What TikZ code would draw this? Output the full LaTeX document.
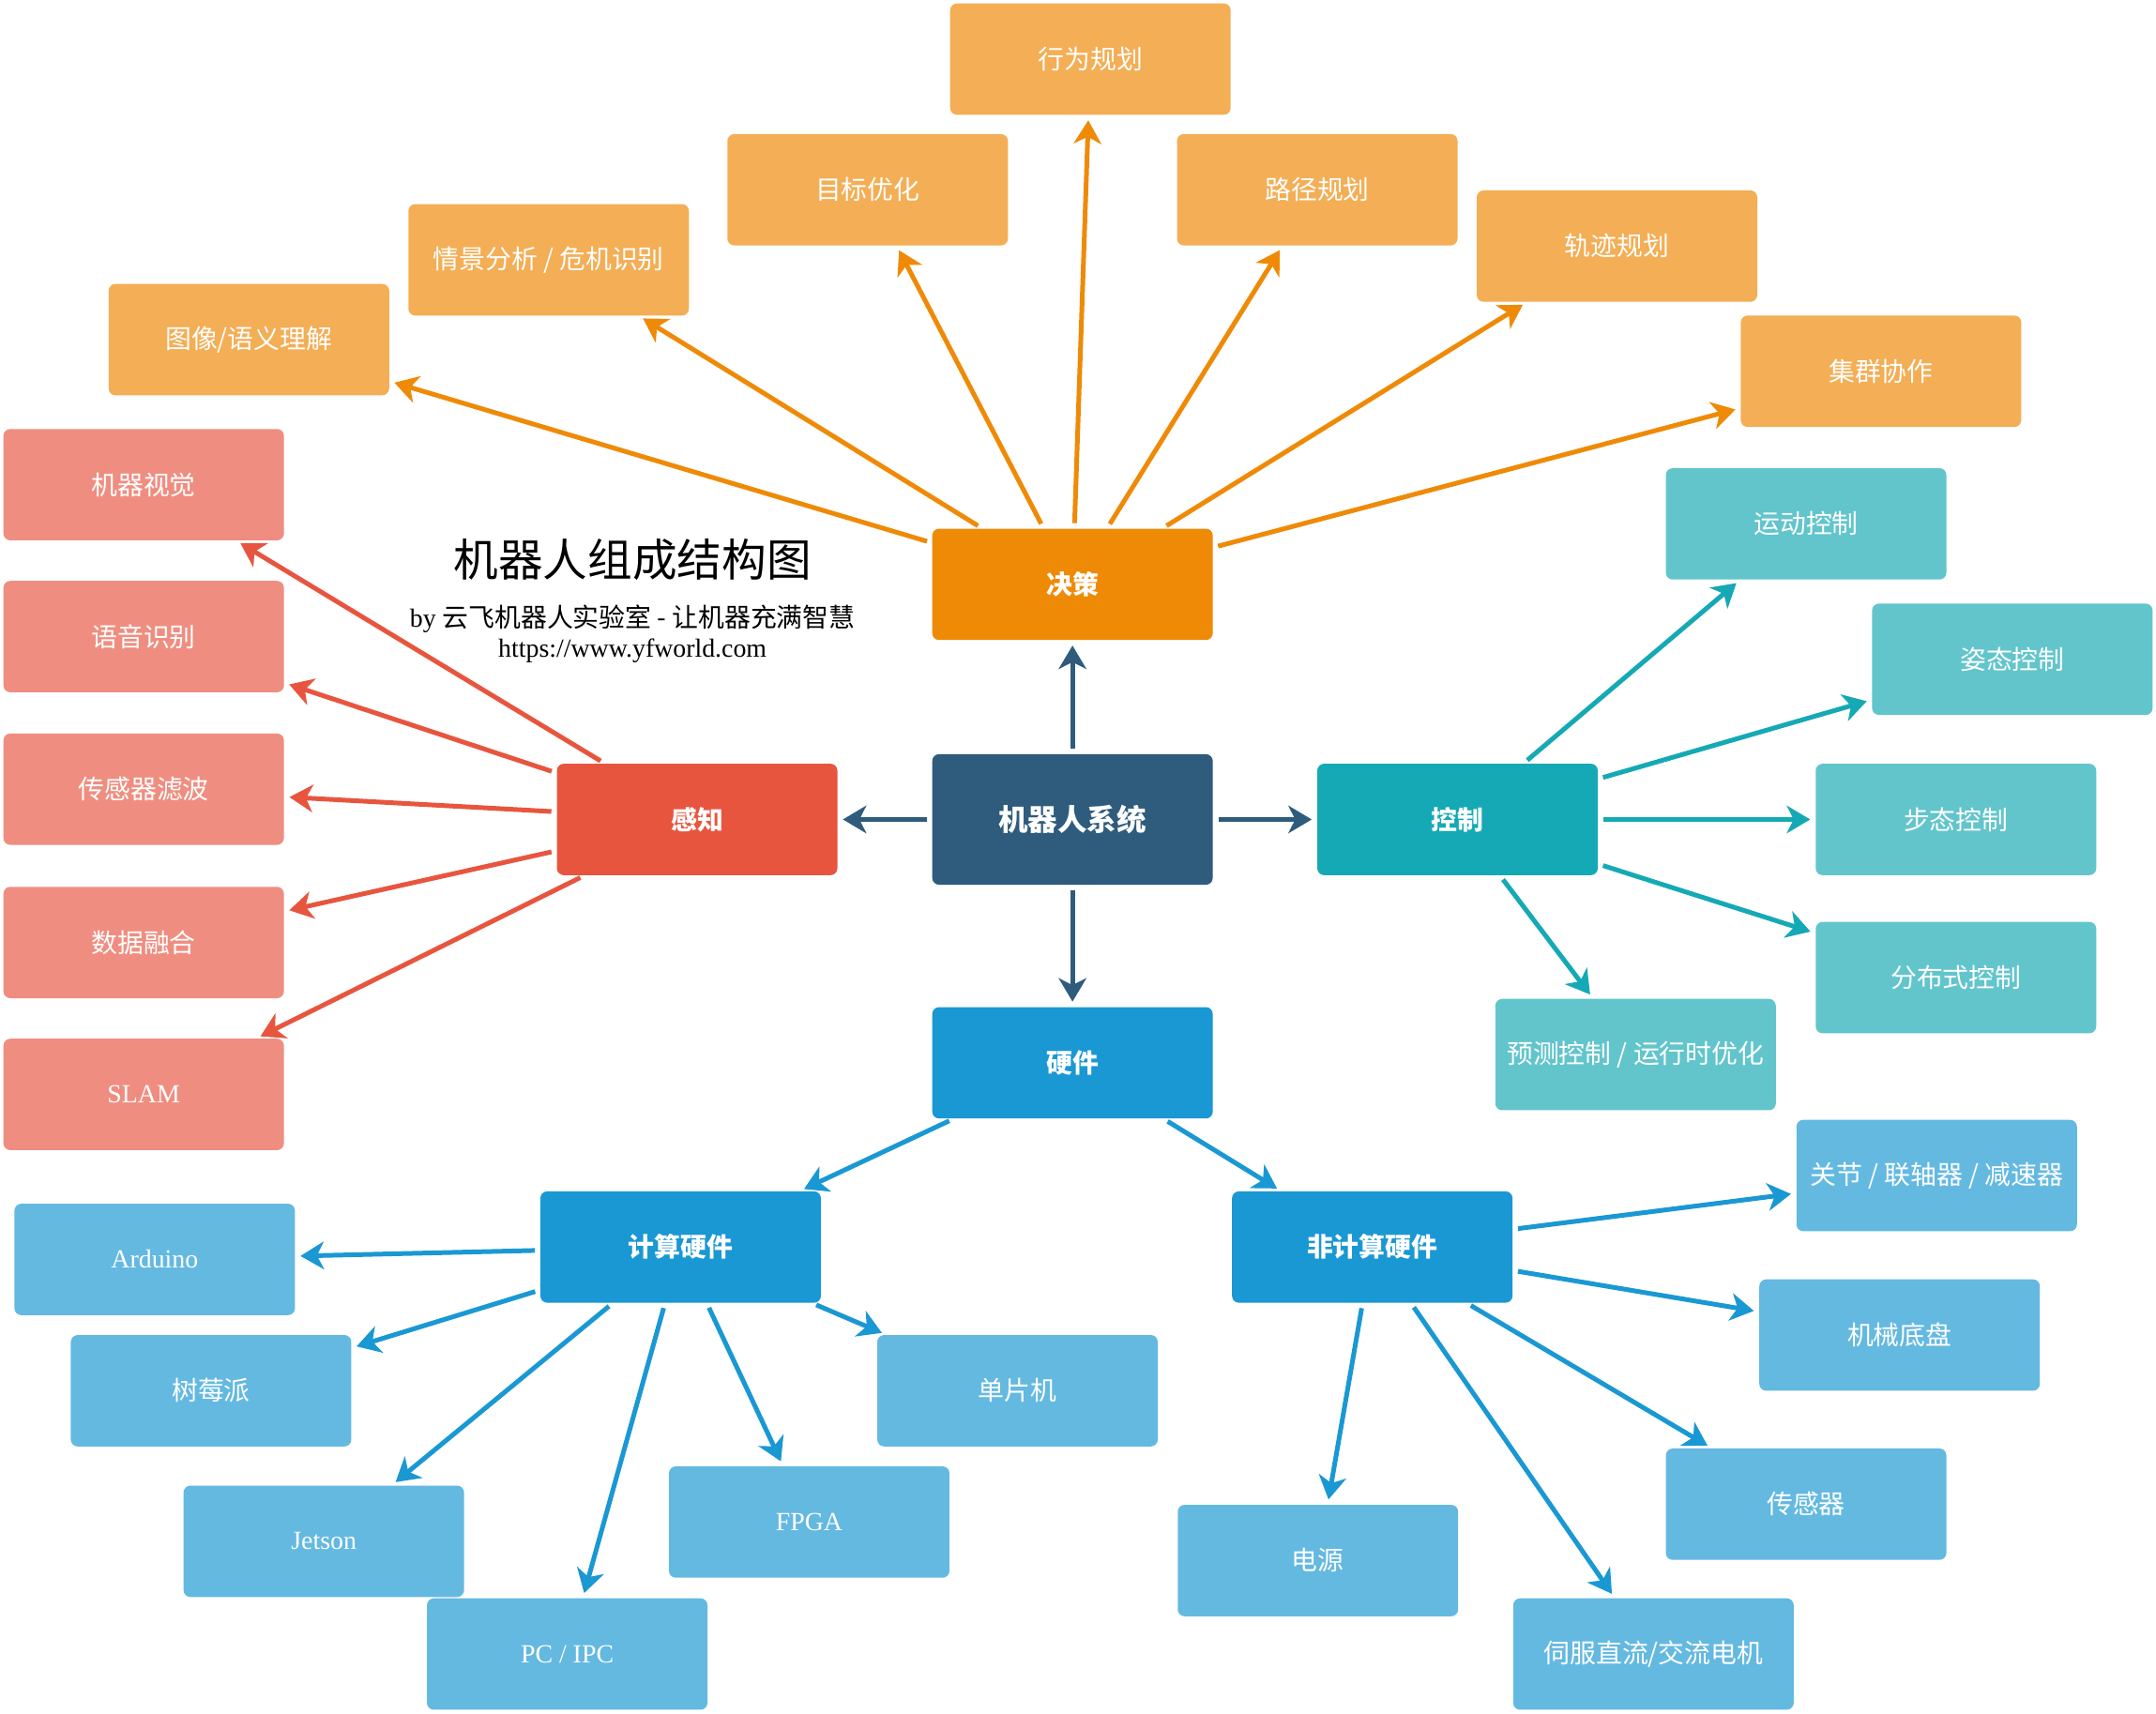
\documentclass[tikz,border=0pt]{standalone}
\usepackage{fontspec}
\setmainfont{Liberation Serif}
\newfontfamily\cjk{Noto Sans CJK SC}
\usetikzlibrary{arrows.meta}
\definecolor{decD}{HTML}{EF8A07}
\definecolor{decL}{HTML}{F4AE55}
\definecolor{sysC}{HTML}{2F5C7D}
\definecolor{perD}{HTML}{E8553F}
\definecolor{perL}{HTML}{EF8E80}
\definecolor{ctlD}{HTML}{15A9B5}
\definecolor{ctlL}{HTML}{62C5CC}
\definecolor{hwD}{HTML}{1A98D3}
\definecolor{hwL}{HTML}{64B9E1}
\tikzset{
  box/.style={rectangle, rounded corners=5pt, minimum width=204pt, minimum height=81pt,
    inner sep=0pt, outer sep=0pt, text=white, font=\cjk\fontsize{19}{19}\selectfont},
  hub/.style={box, font=\cjk\bfseries\fontsize{19}{19}\selectfont},
  latin/.style={box, font=\rmfamily\fontsize{19}{19}\selectfont},
  arr/.style={line width=3.4pt, -{Stealth[length=17pt,width=20pt,inset=5pt]},
    shorten >=4pt, shorten <=4pt},
}
\begin{document}
\begin{tikzpicture}[x=1pt,y=-1pt]
\useasboundingbox[fill=white] (0,0) rectangle (1568,1246);

% hubs
\node[hub, fill=sysC, minimum height=95pt, font=\cjk\bfseries\fontsize{21.5}{21.5}\selectfont] (sys) at (780,596) {机器人系统};
\node[hub, fill=decD] (dec) at (780,425) {决策};
\node[hub, fill=perD] (per) at (507,596) {感知};
\node[hub, fill=ctlD] (ctl) at (1060,596) {控制};
\node[hub, fill=hwD] (hw) at (780,773) {硬件};
\node[hub, fill=hwD] (comp) at (495,907) {计算硬件};
\node[hub, fill=hwD] (ncomp) at (998,907) {非计算硬件};

% decision leaves
\node[box, fill=decL] (d1) at (793,43) {行为规划};
\node[box, fill=decL] (d2) at (631,138) {目标优化};
\node[box, fill=decL] (d3) at (958,138) {路径规划};
\node[box, fill=decL] (d4) at (399,189) {情景分析 / 危机识别};
\node[box, fill=decL] (d5) at (1176,179) {轨迹规划};
\node[box, fill=decL] (d6) at (181,247) {图像/语义理解};
\node[box, fill=decL] (d7) at (1368,270) {集群协作};

% perception leaves
\node[box, fill=perL] (p1) at (104.5,352.5) {机器视觉};
\node[box, fill=perL] (p2) at (104.5,463) {语音识别};
\node[box, fill=perL] (p3) at (104.5,574) {传感器滤波};
\node[box, fill=perL] (p4) at (104.5,685.5) {数据融合};
\node[latin, fill=perL] (p5) at (104.5,796) {SLAM};

% control leaves
\node[box, fill=ctlL] (c1) at (1313.5,381) {运动控制};
\node[box, fill=ctlL] (c2) at (1463.5,479.5) {姿态控制};
\node[box, fill=ctlL] (c3) at (1422.5,596) {步态控制};
\node[box, fill=ctlL] (c4) at (1422.5,711) {分布式控制};
\node[box, fill=ctlL] (c5) at (1189.5,767) {预测控制 / 运行时优化};

% computing hardware leaves
\node[latin, fill=hwL] (h1) at (112.5,916) {Arduino};
\node[box, fill=hwL] (h2) at (153.5,1011.5) {树莓派};
\node[latin, fill=hwL] (h3) at (235.5,1121) {Jetson};
\node[latin, fill=hwL] (h4) at (412.5,1203) {PC / IPC};
\node[latin, fill=hwL] (h5) at (588.5,1107) {FPGA};
\node[box, fill=hwL] (h6) at (740,1011.5) {单片机};

% non-computing hardware leaves
\node[box, fill=hwL] (n1) at (1408.5,855) {关节 / 联轴器 / 减速器};
\node[box, fill=hwL] (n2) at (1381.5,971) {机械底盘};
\node[box, fill=hwL] (n3) at (1313.5,1094) {传感器};
\node[box, fill=hwL] (n4) at (1202.5,1203) {伺服直流/交流电机};
\node[box, fill=hwL] (n5) at (958.5,1135) {电源};

% title
\node[font=\cjk\fontsize{32.5}{32.5}\selectfont, inner sep=0pt] (title) at (460,407) {机器人组成结构图};
\node[font=\fontsize{19}{19}\selectfont, inner sep=0pt] (sub) at (460,450) {by {\cjk 云飞机器人实验室 - 让机器充满智慧}};
\node[font=\fontsize{19}{19}\selectfont, inner sep=0pt] (url) at (460,473) {https://www.yfworld.com};

% connectors
\draw[arr, sysC] (sys) -- (dec);
\draw[arr, sysC] (sys) -- (per);
\draw[arr, sysC] (sys) -- (ctl);
\draw[arr, sysC] (sys) -- (hw);

\foreach \t in {d1,d2,d3,d4,d5,d6,d7} \draw[arr, decD] (dec) -- (\t);
\foreach \t in {p1,p2,p3,p4,p5} \draw[arr, perD] (per) -- (\t);
\foreach \t in {c1,c2,c3,c4,c5} \draw[arr, ctlD] (ctl) -- (\t);
\draw[arr, hwD] (hw) -- (comp);
\draw[arr, hwD] (hw) -- (ncomp);
\foreach \t in {h1,h2,h3,h4,h5,h6} \draw[arr, hwD] (comp) -- (\t);
\foreach \t in {n1,n2,n3,n4,n5} \draw[arr, hwD] (ncomp) -- (\t);
\end{tikzpicture}
\end{document}
